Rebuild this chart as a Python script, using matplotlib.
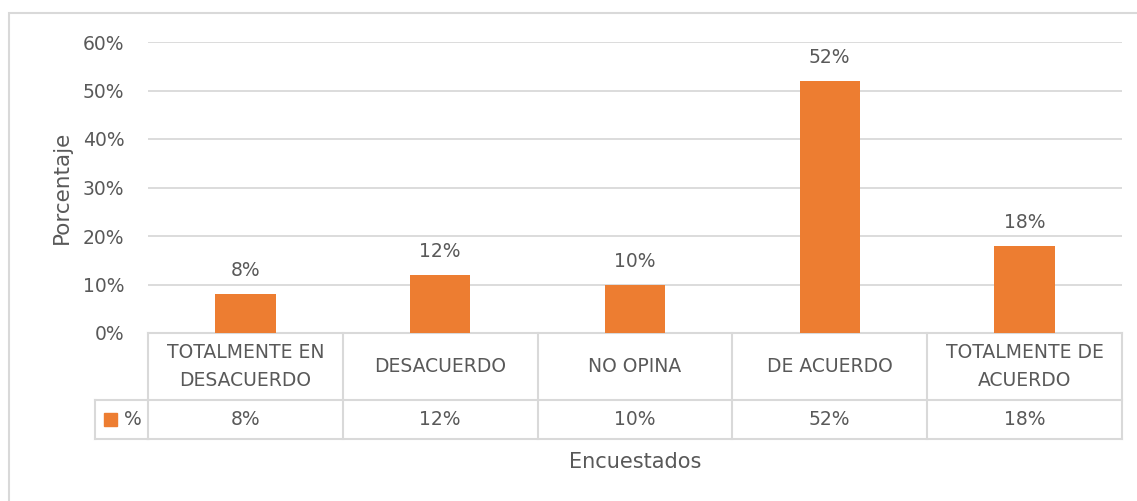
import matplotlib.pyplot as plt
from matplotlib.patches import Rectangle
from matplotlib.lines import Line2D

categorias = ['TOTALMENTE EN\nDESACUERDO', 'DESACUERDO', 'NO OPINA', 'DE ACUERDO', 'TOTALMENTE DE\nACUERDO']
valores = [8, 12, 10, 52, 18]
serie = '%'
yticks = [0, 10, 20, 30, 40, 50, 60]

naranja = '#ED7D31'
gris_txt = '#595959'
gris_lin = '#D9D9D9'
fs = 13.5

plt.rcParams['font.family'] = ['DejaVu Sans']

W, H = 1137, 501
fig = plt.figure(figsize=(W / 100, H / 100), dpi=100)

# borde del area del grafico
fig.patches.append(Rectangle((9 / W, -0.05), 1.2, (H - 13) / H + 0.05,
                             transform=fig.transFigure, fill=False,
                             edgecolor=gris_lin, linewidth=1.5))

# ejes: 0% en y=333, 60% en y=42, x de 148 a 1122
x0, x1, y0, y1 = 148, 1122, 333, 42
ax = fig.add_axes([x0 / W, (H - y0) / H, (x1 - x0) / W, (y0 - y1) / H])

n = len(categorias)
pos = [i + 0.5 for i in range(n)]
ax.bar(pos, valores, width=0.31, color=naranja, zorder=3)
for p, v in zip(pos, valores):
    ax.annotate(f'{v}%', (p, v), xytext=(0, 10), textcoords='offset points',
                ha='center', va='bottom', fontsize=fs, color=gris_txt)

ax.set_xlim(0, n)
ax.set_ylim(0, 60)
ax.set_yticks(yticks)
ax.set_yticklabels([f'{t}%' for t in yticks], fontsize=fs, color=gris_txt)
ax.tick_params(axis='y', length=0, pad=17)
ax.set_xticks([])
ax.grid(axis='y', color=gris_lin, linewidth=1.3, zorder=0)
for s in ax.spines.values():
    s.set_visible(False)

ax.set_ylabel('Porcentaje', fontsize=15.5, color=gris_txt, labelpad=8)

# tabla de datos debajo del eje
hpx = y0 - y1
wpx = x1 - x0
r1 = -(400 - y0) / hpx
r2 = -(439 - y0) / hpx
xl = -(x0 - 95) / wpx * n
tr = ax.get_xaxis_transform()
lk = dict(color=gris_lin, linewidth=1.5, transform=tr, clip_on=False)

ax.add_line(Line2D([0, n], [0, 0], **lk))
ax.add_line(Line2D([0, n], [r1, r1], **lk))
ax.add_line(Line2D([0, n], [r2, r2], **lk))
ax.add_line(Line2D([xl, 0], [r1, r1], **lk))
ax.add_line(Line2D([xl, 0], [r2, r2], **lk))
ax.add_line(Line2D([xl, xl], [r1, r2], **lk))
for i in range(n + 1):
    ax.add_line(Line2D([i, i], [0, r2], **lk))

for p, c, v in zip(pos, categorias, valores):
    ax.text(p, r1 / 2, c, transform=tr, ha='center', va='center',
            fontsize=fs, color=gris_txt, linespacing=1.55)
    ax.text(p, (r1 + r2) / 2, f'{v}%', transform=tr, ha='center', va='center',
            fontsize=fs, color=gris_txt)

# leyenda en la tabla
rm = (r1 + r2) / 2
ax.add_patch(Rectangle(((104 - x0) / wpx * n, rm - 6.5 / hpx), 13 / wpx * n, 13 / hpx,
                       transform=tr, color=naranja, clip_on=False))
ax.text((133 - x0) / wpx * n, rm, serie, transform=tr, ha='center', va='center',
        fontsize=fs, color=gris_txt)

fig.text(635 / W, 1 - 462 / H, 'Encuestados', ha='center', va='center',
         fontsize=15, color=gris_txt)

fig.savefig('out.png', dpi=100)
